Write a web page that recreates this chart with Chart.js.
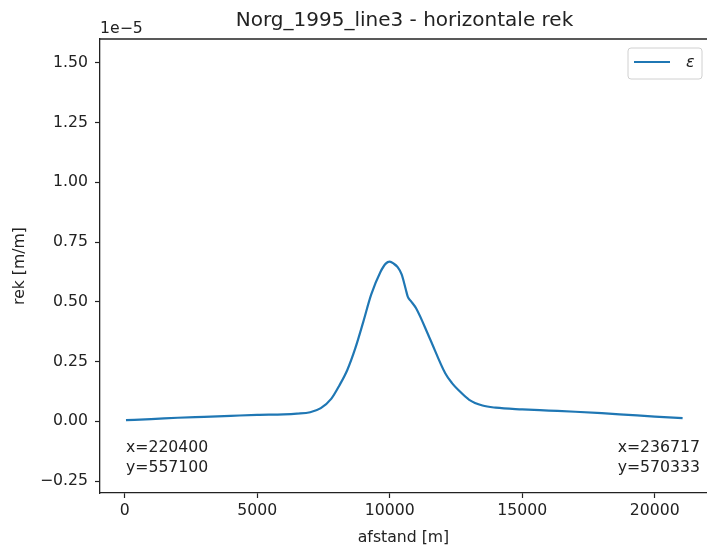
<!DOCTYPE html>
<html>
<head>
<meta charset="utf-8">
<script src="https://cdn.jsdelivr.net/npm/chart.js@4"></script>
<style>
  html, body { margin: 0; padding: 0; background: #fff; overflow: hidden; }
</style>
</head>
<body>
<canvas id="rek" width="707" height="552"></canvas>
<script>
// afstand [m] and horizontal strain (in units of 1e-5)
const distances = [50, 1000, 2000, 3000, 4000, 5000, 6000, 6500, 7000, 7400, 7800, 8100, 8400, 8700, 9000, 9300,
  9650, 9850, 10000, 10150, 10300, 10450, 10600, 10680, 10800, 11000, 11500, 12100, 12350, 12600, 13000, 13500, 14000,
  15000, 16000, 17000, 18000, 19000, 20000, 21050];
const strain = [0.005, 0.009, 0.015, 0.019, 0.023, 0.027, 0.029, 0.032, 0.038, 0.055, 0.095, 0.15, 0.215, 0.305, 0.415, 0.53,
  0.625, 0.66, 0.668, 0.66, 0.645, 0.615, 0.555, 0.522, 0.503, 0.472, 0.35, 0.2, 0.16, 0.13, 0.09, 0.066, 0.057,
  0.05, 0.045, 0.04, 0.034, 0.027, 0.02, 0.013];

const xTicks = [0, 5000, 10000, 15000, 20000];
const yTicks = [-0.25, 0, 0.25, 0.5, 0.75, 1.0, 1.25, 1.5];
const yTickLabels = ["\u22120.25", "0.00", "0.25", "0.50", "0.75", "1.00", "1.25", "1.50"];

const chartTitle = "Norg_1995_line3 - horizontale rek";
const startCoords = ["x=220400", "y=557100"];
const endCoords = ["x=236717", "y=570333"];
const legendLabel = "\u03b5";

const INK = "#222";
const FONT = "DejaVu Sans";
const TICK_PX = 15.7;

Chart.defaults.font.family = FONT;
Chart.defaults.color = INK;

// title, top spine, offset text, coordinate notes and the legend box
const extras = {
  id: "extras",
  afterDraw(chart) {
    const { ctx, chartArea: a, scales } = chart;
    ctx.save();
    ctx.strokeStyle = INK;
    ctx.lineWidth = 1.3;
    ctx.beginPath();
    ctx.moveTo(a.left, a.top);
    ctx.lineTo(a.right, a.top);
    ctx.stroke();

    ctx.fillStyle = INK;
    ctx.textBaseline = "alphabetic";
    ctx.textAlign = "center";
    ctx.font = "20px " + FONT;
    ctx.fillText(chartTitle, (a.left + a.right) / 2 + 1, 26);

    ctx.font = TICK_PX + "px " + FONT;
    ctx.textAlign = "left";
    ctx.fillText("1e\u22125", a.left, a.top - 6);

    const y0 = scales.y.getPixelForValue(0);
    const xl = scales.x.getPixelForValue(distances[0]);
    startCoords.forEach((t, i) => ctx.fillText(t, xl, y0 + 31 + i * 20));
    ctx.textAlign = "right";
    endCoords.forEach((t, i) => ctx.fillText(t, a.right - 7, y0 + 31 + i * 20));

    // legend
    const lx = a.right - 79, ly = a.top + 9, lw = 74, lh = 31;
    ctx.beginPath();
    ctx.roundRect(lx, ly, lw, lh, 3);
    ctx.fillStyle = "rgba(255,255,255,0.8)";
    ctx.fill();
    ctx.strokeStyle = "#d0d0d0";
    ctx.lineWidth = 1;
    ctx.stroke();
    ctx.strokeStyle = "#1f77b4";
    ctx.lineWidth = 2.2;
    ctx.beginPath();
    ctx.moveTo(lx + 6, ly + 14);
    ctx.lineTo(lx + 42, ly + 14);
    ctx.stroke();
    ctx.fillStyle = INK;
    ctx.font = "italic 16px " + FONT;
    ctx.textAlign = "left";
    ctx.textBaseline = "middle";
    ctx.fillText(legendLabel, lx + 58, ly + 15);
    ctx.restore();
  }
};

const axisGrid = {
  display: true,
  drawOnChartArea: false,
  drawTicks: true,
  tickLength: 5,
  tickColor: INK,
  tickWidth: 1.2
};

new Chart(document.getElementById("rek"), {
  type: "line",
  data: {
    datasets: [{
      label: legendLabel,
      data: distances.map((d, i) => ({ x: d, y: strain[i] })),
      borderColor: "#1f77b4",
      borderWidth: 2.2,
      pointRadius: 0,
      fill: false,
      cubicInterpolationMode: "monotone"
    }]
  },
  options: {
    responsive: false,
    animation: false,
    layout: { padding: { top: 39, left: 0, right: 0, bottom: 0 } },
    plugins: {
      legend: { display: false },
      tooltip: { enabled: false },
      title: { display: false }
    },
    scales: {
      x: {
        type: "linear",
        min: -930,
        max: 21970,
        afterBuildTicks: (s) => { s.ticks = xTicks.map(v => ({ value: v })); },
        afterFit: (s) => { s.height = 59; },
        ticks: {
          color: INK,
          font: { size: TICK_PX },
          padding: 4,
          maxRotation: 0,
          callback: (v) => String(v)
        },
        grid: axisGrid,
        border: { display: true, color: INK, width: 1.3 },
        title: {
          display: true,
          text: "afstand [m]",
          color: INK,
          font: { size: TICK_PX },
          padding: { top: 0, bottom: 5 }
        }
      },
      y: {
        type: "linear",
        min: -0.30,
        max: 1.60,
        afterBuildTicks: (s) => { s.ticks = yTicks.map(v => ({ value: v })); },
        afterFit: (s) => { s.width = 100; },
        ticks: {
          color: INK,
          font: { size: TICK_PX },
          padding: 7,
          callback: (v) => yTickLabels[yTicks.indexOf(v)]
        },
        grid: axisGrid,
        border: { display: true, color: INK, width: 1.3 },
        title: {
          display: true,
          text: "rek [m/m]",
          color: INK,
          font: { size: TICK_PX },
          padding: { top: 10.6, bottom: 0 }
        }
      }
    }
  },
  plugins: [extras]
});
</script>
</body>
</html>
